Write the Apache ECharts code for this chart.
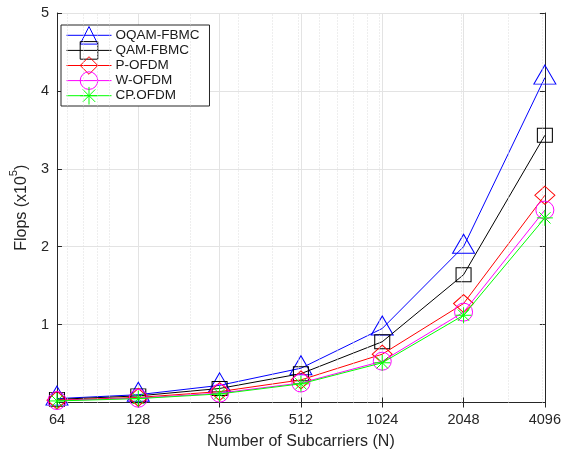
<!DOCTYPE html>
<html>
<head>
<meta charset="utf-8">
<script src="https://cdn.jsdelivr.net/npm/echarts@6/dist/echarts.min.js"></script>
<style>
  html, body { margin: 0; padding: 0; background: #fff; }
  #chart { width: 564px; height: 455px; }
</style>
</head>
<body>
<div id="chart"></div>
<script>
// Number of subcarriers (x values, log2 scale)
const subcarriers = [64, 128, 256, 512, 1024, 2048, 4096];

// Computational complexity in units of 1e5 flops
const oqamFbmc = [0.05, 0.10, 0.22, 0.44, 0.95, 2.00, 4.17];
const qamFbmc  = [0.04, 0.085, 0.18, 0.37, 0.78, 1.64, 3.43];
const pOfdm    = [0.03, 0.065, 0.14, 0.29, 0.62, 1.27, 2.66];
const wOfdm    = [0.025, 0.055, 0.12, 0.25, 0.53, 1.16, 2.47];
const cpOfdm   = [0.02, 0.05, 0.11, 0.24, 0.51, 1.12, 2.37];

// Minor grid positions of a base-10 log axis
const minorGridN = [70, 80, 90, 100, 200, 300, 400, 500, 600, 700, 800, 900, 1000, 2000, 3000, 4000];

const seriesNames = ['OQAM-FBMC', 'QAM-FBMC', 'P-OFDM', 'W-OFDM', 'CP.OFDM'];
const seriesData = [oqamFbmc, qamFbmc, pOfdm, wOfdm, cpOfdm];

const FONT = '"Liberation Sans", Arial, Helvetica, sans-serif';
const AXIS = '#262626';
const GRID = '#e3e3e3';

const asterisk = 'path://M0,-1L0,1M-1,0L1,0M-0.7071,-0.7071L0.7071,0.7071M-0.7071,0.7071L0.7071,-0.7071';

const styles = [
  { color: '#0000ff', symbol: 'triangle', size: [22, 19], offset: [0, -3] },
  { color: '#000000', symbol: 'rect', size: [15, 14], offset: [0, 0] },
  { color: '#ff0000', symbol: 'diamond', size: [20, 18], offset: [0, 0] },
  { color: '#ff00ff', symbol: 'circle', size: [18, 18], offset: [0, 0] },
  { color: '#00ff00', symbol: asterisk, size: [16, 16], offset: [0, 0] }
];

function pairs(values) {
  return subcarriers.map((n, i) => [n, values[i]]);
}

const series = [{
  name: 'minor-grid',
  type: 'line',
  data: [],
  silent: true,
  z: 1,
  markLine: {
    silent: true,
    symbol: ['none', 'none'],
    label: { show: false },
    animation: false,
    lineStyle: { color: '#dcdcdc', type: [1, 2], width: 1 },
    data: minorGridN.map(n => ({ xAxis: n }))
  }
}];

seriesNames.forEach((name, i) => {
  const s = styles[i];
  series.push({
    name: name,
    type: 'line',
    z: 2 + i,
    data: pairs(seriesData[i]),
    symbol: s.symbol,
    symbolSize: s.size,
    symbolOffset: s.offset,
    showAllSymbol: true,
    lineStyle: { color: s.color, width: 1 },
    itemStyle: { color: 'transparent', borderColor: s.color, borderWidth: 1 },
    emphasis: { disabled: true },
    animation: false
  });
});

// Legend entries: line sample with a hollow marker in each series colour
const legendData = seriesNames.map((name, i) => ({
  name: name,
  lineStyle: { color: styles[i].color, width: 1 },
  itemStyle: { color: 'transparent', borderColor: styles[i].color, borderWidth: 1 }
}));

const chart = echarts.init(document.getElementById('chart'), null, { renderer: 'canvas' });

chart.setOption({
  backgroundColor: '#ffffff',
  animation: false,
  textStyle: { fontFamily: FONT },
  grid: { left: 52, right: 19, top: 13, bottom: 52.5, containLabel: false },
  legend: {
    data: legendData,
    orient: 'vertical',
    left: 61,
    top: 25,
    itemWidth: 45,
    itemHeight: 22,
    itemGap: -3.5,
    padding: [1, 10, 1, 5],
    backgroundColor: '#ffffff',
    borderColor: AXIS,
    borderWidth: 1,
    textStyle: { fontFamily: FONT, fontSize: 13.5, color: '#1a1a1a', padding: [0, 0, 0, -1] },
    selectedMode: false
  },
  xAxis: [{
    type: 'log',
    logBase: 2,
    min: 64,
    max: 4096,
    name: 'Number of Subcarriers (N)',
    nameLocation: 'middle',
    nameGap: 31,
    nameTextStyle: { fontFamily: FONT, fontSize: 16, color: AXIS },
    axisLine: { lineStyle: { color: AXIS, width: 1 } },
    axisTick: { inside: true, length: 5, lineStyle: { color: AXIS } },
    axisLabel: {
      fontFamily: FONT, fontSize: 14.5, color: AXIS, margin: 10,
      formatter: v => String(Math.round(v))
    },
    splitLine: { show: true, lineStyle: { color: GRID, width: 1 } }
  }, {
    type: 'log',
    logBase: 2,
    min: 64,
    max: 4096,
    position: 'top',
    axisLine: { lineStyle: { color: AXIS, width: 1 } },
    axisTick: { inside: true, length: 5, lineStyle: { color: AXIS } },
    axisLabel: { show: false },
    splitLine: { show: false }
  }],
  yAxis: [{
    type: 'value',
    min: 0,
    max: 5,
    interval: 1,
    name: '{a|Flops (x10}{s|5}{a|)}',
    nameLocation: 'middle',
    nameGap: 22,
    nameRotate: 90,
    nameTextStyle: {
      rich: {
        a: { fontFamily: FONT, fontSize: 16, color: AXIS, lineHeight: 22, verticalAlign: 'bottom' },
        s: { fontFamily: FONT, fontSize: 11, color: AXIS, lineHeight: 22, verticalAlign: 'top' }
      }
    },
    axisLine: { show: true, lineStyle: { color: AXIS, width: 1 } },
    axisTick: { show: true, inside: true, length: 5, lineStyle: { color: AXIS } },
    axisLabel: {
      fontFamily: FONT, fontSize: 14.5, color: AXIS, margin: 8,
      formatter: v => (v === 0 ? '' : String(v))
    },
    splitLine: { show: true, lineStyle: { color: GRID, width: 1 } }
  }, {
    type: 'value',
    min: 0,
    max: 5,
    interval: 1,
    position: 'right',
    axisLine: { show: true, lineStyle: { color: AXIS, width: 1 } },
    axisTick: { show: true, inside: true, length: 5, lineStyle: { color: AXIS } },
    axisLabel: { show: false },
    splitLine: { show: false }
  }],
  series: series
});
</script>
</body>
</html>
